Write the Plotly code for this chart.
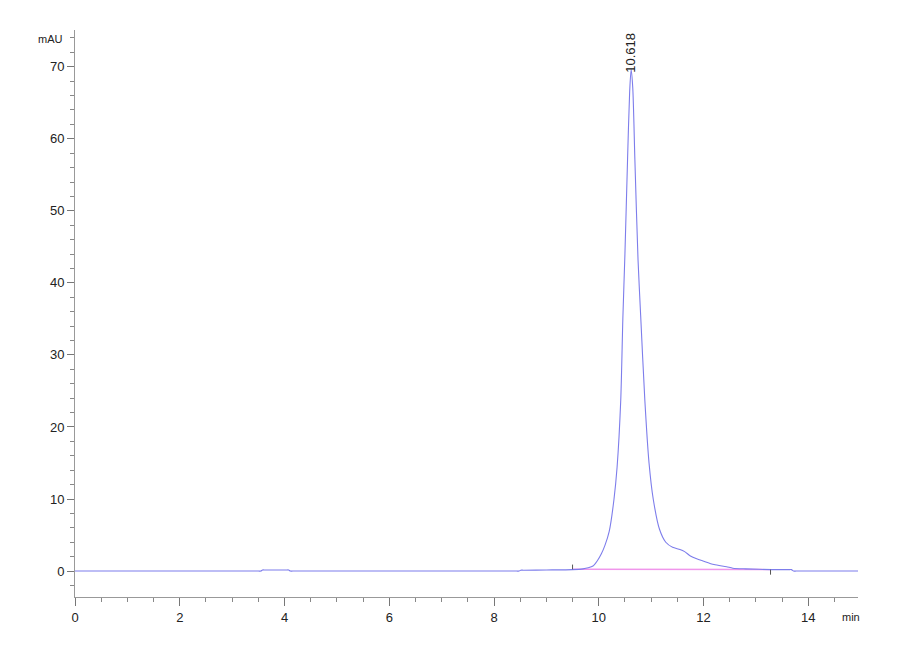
import plotly.graph_objects as go

# Chromatogram signal (min, mAU)
time_min = [0.0, 1.8, 3.50, 3.55, 3.58, 3.63, 4.03, 4.08, 4.11, 4.16, 6.3,
            8.43, 8.48, 8.51, 8.56, 9.0, 9.5, 9.7, 9.8, 9.89,
            9.97, 10.05, 10.12, 10.20, 10.29, 10.35, 10.42, 10.46, 10.50, 10.55,
            10.59, 10.618, 10.65, 10.69, 10.75, 10.80, 10.88, 10.96, 11.04, 11.16,
            11.28, 11.41, 11.55, 11.64, 11.75, 11.87, 11.99, 12.2, 12.44, 12.56,
            12.8, 13.3, 13.63, 13.68, 13.72, 13.77, 14.4, 14.95]
signal_mau = [0.0, 0.0, 0.0, 0.0, 0.15, 0.15, 0.15, 0.15, 0.0, 0.0, 0.0,
              0.0, 0.0, 0.12, 0.12, 0.15, 0.2, 0.3, 0.45, 0.7,
              1.4, 2.4, 3.6, 5.5, 9.9, 14.4, 23.7, 35.0, 44.0, 57.1,
              66.5, 69.6, 67.0, 57.1, 43.2, 35.5, 23.7, 15.0, 10.0, 5.8,
              4.0, 3.3, 3.0, 2.7, 2.1, 1.7, 1.4, 0.9, 0.6, 0.4,
              0.3, 0.2, 0.2, 0.2, 0.0, 0.0, 0.0, 0.0]

# integration baseline and its start / end markers
baseline_t = [9.50, 13.28]
baseline_v = [0.25, 0.2]
start_mark_t = [9.50, 9.50]
start_mark_v = [0.25, 0.9]
end_mark_t = [13.28, 13.28]
end_mark_v = [0.2, -0.5]

peak_rt = 10.618
peak_height = 69.6

fig = go.Figure()

fig.add_trace(go.Scatter(
    x=baseline_t, y=baseline_v, mode="lines",
    line=dict(color="rgb(240,150,235)", width=1.5),
))
fig.add_trace(go.Scatter(
    x=time_min, y=signal_mau, mode="lines",
    line=dict(color="rgb(125,125,235)", width=1.1, shape="spline", smoothing=0.7),
))
for tx, vy in [(start_mark_t, start_mark_v), (end_mark_t, end_mark_v)]:
    fig.add_trace(go.Scatter(
        x=tx, y=vy, mode="lines",
        line=dict(color="#555555", width=1),
    ))

fig.add_annotation(
    x=peak_rt, y=peak_height, text=f"{peak_rt:.3f}", textangle=-90,
    showarrow=False, xanchor="center", yanchor="bottom", yshift=-5,
    font=dict(size=13, color="#222222"),
)
fig.add_annotation(
    x=0, y=1, xref="paper", yref="paper", text="mAU", showarrow=False,
    xanchor="right", yanchor="middle", xshift=-10, yshift=-9,
    font=dict(size=11, color="#222222"),
)
fig.add_annotation(
    x=1, y=0, xref="paper", yref="paper", text="min", showarrow=False,
    xanchor="right", yanchor="top", xshift=4, yshift=-12,
    font=dict(size=11, color="#222222"),
)

fig.update_layout(
    width=900, height=660,
    paper_bgcolor="white", plot_bgcolor="white",
    showlegend=False,
    margin=dict(l=67, r=50, t=22, b=71),
    font=dict(family="Liberation Sans, Arial, sans-serif", size=13, color="#222222"),
    xaxis=dict(
        range=[0, 14.95], dtick=2, tick0=0, showgrid=False, zeroline=False,
        showline=True, linecolor="#999999", linewidth=1,
        ticks="outside", ticklen=8, tickcolor="#777777",
        minor=dict(dtick=0.5, ticks="outside", ticklen=4, tickcolor="#888888"),
    ),
    yaxis=dict(
        range=[-3.6, 75.1], dtick=10, tick0=0, showgrid=False, zeroline=False,
        showline=True, linecolor="#999999", linewidth=1,
        ticks="outside", ticklen=7, tickcolor="#777777",
        minor=dict(dtick=2, ticks="outside", ticklen=4, tickcolor="#888888"),
    ),
)

fig.write_html("out.html")
